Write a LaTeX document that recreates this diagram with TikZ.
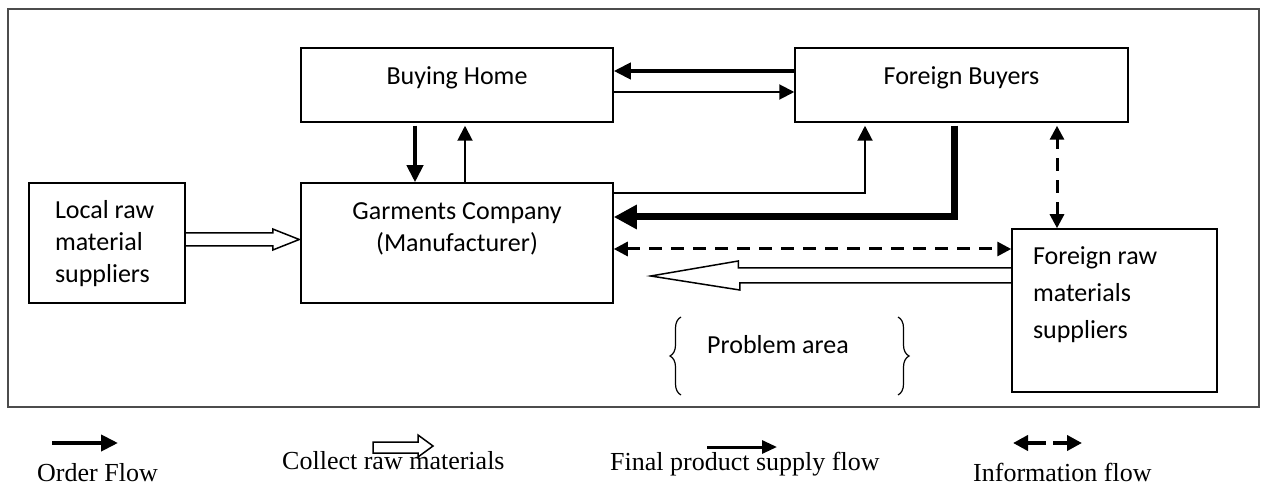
\documentclass[tikz,border=0pt]{standalone}
\usepackage{fontspec}
\setmainfont{Liberation Serif}
\newfontfamily\calibri{Carlito}
\usetikzlibrary{arrows.meta,calc,decorations.pathreplacing}
\begin{document}
\begin{tikzpicture}[x=1pt,y=-1pt,
    box/.style={draw, line width=1.5pt, inner sep=0pt, align=flush center,
        font=\calibri\fontsize{26}{32}\selectfont},
    order/.style={line width=4pt, -{Triangle[length=17pt,width=16pt]}},
    supply/.style={line width=2pt, -{Triangle[length=15pt,width=15pt]}},
    heavy/.style={line width=7pt, line join=miter, -{Triangle[length=23pt,width=23pt]}},
    info/.style={line width=3pt, dash pattern=on 13pt off 9pt,
        {Triangle[length=14pt,width=14pt]}-{Triangle[length=14pt,width=14pt]}},
    hollow/.style={line width=1.5pt, line join=miter},
    brace/.style={decorate, decoration={brace, amplitude=11pt}, line width=1.2pt},
    legend/.style={inner sep=0pt, anchor=base west, font=\fontsize{26}{30}\selectfont}]
    \useasboundingbox (0,0) rectangle (1263,486);
    \draw[black!70, line width=1.5pt] (8,9) rectangle (1259,407);

    \node[box, minimum width=312pt, minimum height=74pt, text height=18pt, text depth=18pt]
        (bh) at (457,85) {Buying Home};
    \node[box, minimum width=333pt, minimum height=74pt, text height=18pt, text depth=18pt]
        (fb) at (961.5,85) {Foreign Buyers};
    \node[box, align=flush left, text width=104pt, minimum width=156pt, minimum height=120pt,
        text height=18pt, text depth=66pt]
        (loc) at (107,243) {Local raw\\material\\suppliers};
    \node[box, text width=300pt, minimum width=312pt, minimum height=120pt,
        text height=18pt, text depth=64pt]
        (gar) at (457,243) {Garments Company\\(Manufacturer)};
    \node[box, align=flush left, text width=163pt, minimum width=205pt, minimum height=163pt,
        text height=18pt, text depth=109pt, font=\calibri\fontsize{26}{37}\selectfont]
        (frm) at (1114.5,310.5) {Foreign raw\\materials\\suppliers};
    \node[font=\calibri\fontsize{26}{32}\selectfont, inner sep=0pt] (prob) at (778,345) {Problem area};
    \draw[brace] (681,395) -- (681,317);
    \draw[brace] (898,317) -- (898,395);

    % orders and supply
    \draw[order] ([yshift=14pt]fb.west) -- ([yshift=14pt]fb.west -| bh.east);
    \draw[supply] ([yshift=-7pt]bh.east) -- ([yshift=-7pt]bh.east -| fb.west);
    \draw[order, shorten <=3pt] ([xshift=-42pt]bh.south) -- ([xshift=-42pt]bh.south |- gar.north);
    \draw[supply, shorten >=3pt] ([xshift=8pt]gar.north) -- ([xshift=8pt]gar.north |- bh.south);
    \draw[supply, shorten >=3pt] ([yshift=-11pt]gar.north east) -| ([xshift=-96.5pt]fb.south);
    \draw[heavy, shorten <=3pt] ([xshift=-7.5pt]fb.south) |- ([yshift=26pt]gar.east);
    \draw[info] ([yshift=-6pt]gar.east) -- ([yshift=-6pt]gar.east -| frm.west);
    \draw[info, shorten >=3pt] ([xshift=-57.5pt]frm.north) -- ([xshift=-57.5pt]frm.north |- fb.south);

    % raw materials
    \draw[hollow] ($(loc.east)+(0,-10)$) -- ++(87,0) -- ++(0,-4) -- ($(gar.west)+(-1,-3.5)$)
        -- ($(loc.east)+(87,7)$) -- ++(0,-4) -- ($(loc.east)+(0,3)$);
    \coordinate (probtip) at ($(gar.east)+(37,33)$);
    \draw[hollow] ($(frm.west)+(0,-42.5)$) -- ++(-273,0) -- ++(0,-7) -- (probtip)
        -- ++(89,14) -- ++(0,-7) -- ++(273,0);

    % legend
    \node[legend] (lgord) at (37,481) {Order Flow};
    \node[legend] (lgcol) at (282,469) {Collect raw materials};
    \node[legend] (lgfin) at (610,470) {Final product supply flow};
    \node[legend] (lginf) at (973,481) {Information flow};
    \draw[order] ($(lgord.base west)+(15,-38)$) -- ++(66,0);
    \draw[hollow] ($(lgcol.base west)+(91,-27)$) -- ++(45,0) -- ++(0,-7) -- ++(15,11)
        -- ++(-15,11) -- ++(0,-4) -- ++(-45,0) -- cycle;
    \draw[line width=3pt, -{Triangle[length=15pt,width=13pt]}] ($(lgfin.base west)+(97,-23)$) -- ++(70,0);
    \draw[line width=4pt, dash pattern=on 19pt off 7pt,
        {Triangle[length=15pt,width=15pt]}-{Triangle[length=15pt,width=15pt]}]
        ($(lginf.base west)+(40,-38)$) -- ++(69,0);
\end{tikzpicture}
\end{document}
